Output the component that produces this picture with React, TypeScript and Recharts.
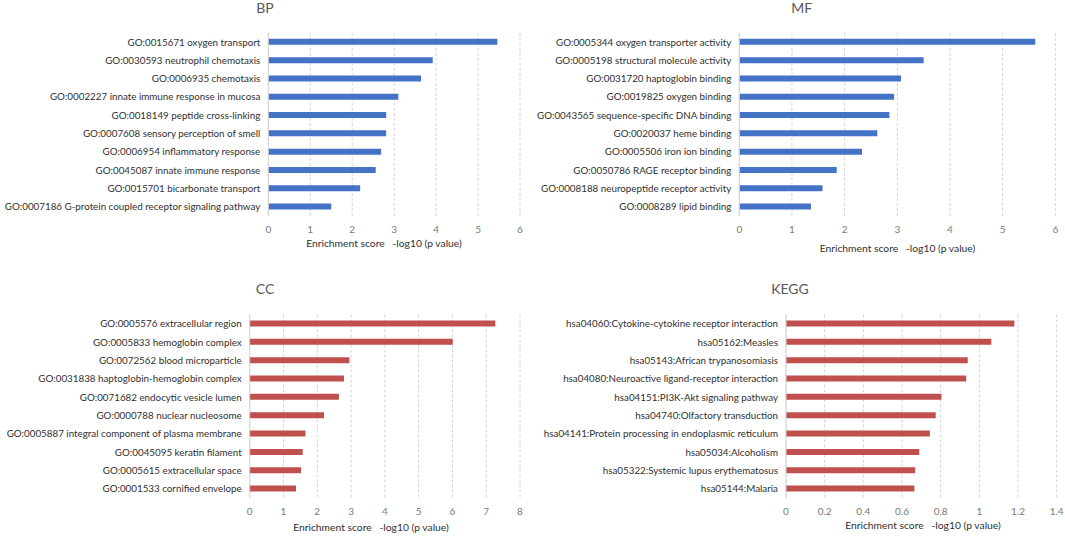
import * as React from "react";
import { BarChart, Bar, XAxis, YAxis, CartesianGrid } from "recharts";

const bpTerms = [
    "GO:0015671 oxygen transport",
    "GO:0030593 neutrophil chemotaxis",
    "GO:0006935 chemotaxis",
    "GO:0002227 innate immune response in mucosa",
    "GO:0018149 peptide cross-linking",
    "GO:0007608 sensory perception of smell",
    "GO:0006954 inflammatory response",
    "GO:0045087 innate immune response",
    "GO:0015701 bicarbonate transport",
    "GO:0007186 G-protein coupled receptor signaling pathway",
];
const bpScores = [5.46, 3.92, 3.64, 3.1, 2.81, 2.81, 2.69, 2.56, 2.19, 1.5];

const mfTerms = [
    "GO:0005344 oxygen transporter activity",
    "GO:0005198 structural molecule activity",
    "GO:0031720 haptoglobin binding",
    "GO:0019825 oxygen binding",
    "GO:0043565 sequence-specific DNA binding",
    "GO:0020037 heme binding",
    "GO:0005506 iron ion binding",
    "GO:0050786 RAGE receptor binding",
    "GO:0008188 neuropeptide receptor activity",
    "GO:0008289 lipid binding",
];
const mfScores = [5.62, 3.5, 3.07, 2.94, 2.85, 2.62, 2.33, 1.85, 1.58, 1.36];

const ccTerms = [
    "GO:0005576 extracellular region",
    "GO:0005833 hemoglobin complex",
    "GO:0072562 blood microparticle",
    "GO:0031838 haptoglobin-hemoglobin complex",
    "GO:0071682 endocytic vesicle lumen",
    "GO:0000788 nuclear nucleosome",
    "GO:0005887 integral component of plasma membrane",
    "GO:0045095 keratin filament",
    "GO:0005615 extracellular space",
    "GO:0001533 cornified envelope",
];
const ccScores = [7.27, 6.01, 2.95, 2.79, 2.64, 2.2, 1.65, 1.57, 1.52, 1.37];

const keggTerms = [
    "hsa04060:Cytokine-cytokine receptor interaction",
    "hsa05162:Measles",
    "hsa05143:African trypanosomiasis",
    "hsa04080:Neuroactive ligand-receptor interaction",
    "hsa04151:PI3K-Akt signaling pathway",
    "hsa04740:Olfactory transduction",
    "hsa04141:Protein processing in endoplasmic reticulum",
    "hsa05034:Alcoholism",
    "hsa05322:Systemic lupus erythematosus",
    "hsa05144:Malaria",
];
const keggScores = [1.181, 1.062, 0.94, 0.932, 0.804, 0.774, 0.744, 0.689, 0.668, 0.664];

const goTicks = [0, 1, 2, 3, 4, 5, 6];
const ccTicks = [0, 1, 2, 3, 4, 5, 6, 7, 8];
const keggTicks = [0, 0.2, 0.4, 0.6, 0.8, 1, 1.2, 1.4];

const AXIS_TITLE = "Enrichment score\u00a0\u00a0\u00a0-log10 (p value)";
const FONT = "Lato, 'Open Sans', sans-serif";
const BLUE = "#4472C4";
const RED = "#C0504D";

type PanelProps = {
    title: string;
    terms: string[];
    scores: number[];
    ticks: number[];
    color: string;
    // page geometry
    left: number;
    top: number;
    plotLeft: number;
    plotRight: number;
    plotTop: number;
    plotBottom: number;
    titleX: number;
    titleY: number;
    axisTitleX: number;
    axisTitleY: number;
};

const PANEL_W = 535;
const PANEL_H = 268;

// plain one-line category label (the default tick wraps long names)
const TermTick = (props: any) => {
    const { x, y, payload } = props;
    return (
        <text x={x} y={y} dy={3.5} textAnchor="end" fontSize={9.8} fill="#303030" fontFamily={FONT}>
            {payload.value}
        </text>
    );
};

function Panel(p: PanelProps) {
    const data = p.terms.map((name, i) => ({ name, score: p.scores[i] }));
    const axisTop = p.plotBottom - p.top;
    const axisTitleBase = p.axisTitleY + 3.6 - p.top;
    const xAxisHeight = axisTitleBase - axisTop;
    const dx = p.axisTitleX - (p.plotLeft + p.plotRight) / 2;
    return (
        <div style={{ position: "absolute", left: p.left, top: p.top, width: PANEL_W, height: PANEL_H }}>
            <BarChart
                width={PANEL_W}
                height={PANEL_H}
                layout="vertical"
                data={data}
                margin={{
                    top: p.plotTop - p.top,
                    right: p.left + PANEL_W - p.plotRight,
                    bottom: PANEL_H - axisTop - xAxisHeight,
                    left: 0,
                }}
            >
                <CartesianGrid horizontal={false} stroke="#d4d4d4" strokeDasharray="3 2" />
                <XAxis
                    type="number"
                    domain={[0, p.ticks[p.ticks.length - 1]]}
                    ticks={p.ticks}
                    axisLine={false}
                    tickLine={false}
                    tickMargin={4}
                    height={xAxisHeight}
                    tick={{ fontSize: 10, fill: "#7a7a7a", fontFamily: FONT }}
                    label={{
                        value: AXIS_TITLE,
                        position: "insideBottom",
                        offset: 0,
                        dx,
                        style: { fontSize: 10.3, fill: "#303030", fontFamily: FONT },
                    }}
                />
                <YAxis
                    type="category"
                    dataKey="name"
                    width={p.plotLeft - p.left}
                    interval={0}
                    tickLine={false}
                    axisLine={{ stroke: "#d4d4d4" }}
                    tick={<TermTick />}
                />
                <Bar dataKey="score" fill={p.color} barSize={6} isAnimationActive={false} />
            </BarChart>
            <svg
                width={PANEL_W}
                height={PANEL_H}
                style={{ position: "absolute", left: 0, top: 0, pointerEvents: "none" }}
            >
                <text
                    x={p.titleX - p.left}
                    y={p.titleY - p.top + 5}
                    textAnchor="middle"
                    fontSize={14}
                    fill="#595959"
                    fontFamily={FONT}
                >
                    {p.title}
                </text>
            </svg>
        </div>
    );
}

export default function App() {
    return (
        <div
            style={{
                position: "absolute",
                left: 0,
                top: 0,
                width: 1065,
                height: 538,
                background: "#fff",
                overflow: "hidden",
            }}
        >
            <Panel
                title="BP"
                terms={bpTerms}
                scores={bpScores}
                ticks={goTicks}
                color={BLUE}
                left={0}
                top={0}
                plotLeft={268.3}
                plotRight={520}
                plotTop={32.85}
                plotBottom={215.85}
                titleX={265}
                titleY={7.7}
                axisTitleX={384}
                axisTitleY={243}
            />
            <Panel
                title="MF"
                terms={mfTerms}
                scores={mfScores}
                ticks={goTicks}
                color={BLUE}
                left={530}
                top={0}
                plotLeft={739.3}
                plotRight={1055.3}
                plotTop={32.85}
                plotBottom={215.85}
                titleX={801.7}
                titleY={8.2}
                axisTitleX={897.5}
                axisTitleY={248.3}
            />
            <Panel
                title="CC"
                terms={ccTerms}
                scores={ccScores}
                ticks={ccTicks}
                color={RED}
                left={0}
                top={270}
                plotLeft={249.7}
                plotRight={520}
                plotTop={314.5}
                plotBottom={497.9}
                titleX={265}
                titleY={289}
                axisTitleX={371}
                axisTitleY={527.3}
            />
            <Panel
                title="KEGG"
                terms={keggTerms}
                scores={keggScores}
                ticks={keggTicks}
                color={RED}
                left={530}
                top={270}
                plotLeft={786}
                plotRight={1056.7}
                plotTop={314.5}
                plotBottom={497.9}
                titleX={790}
                titleY={289}
                axisTitleX={923}
                axisTitleY={525.7}
            />
        </div>
    );
}
